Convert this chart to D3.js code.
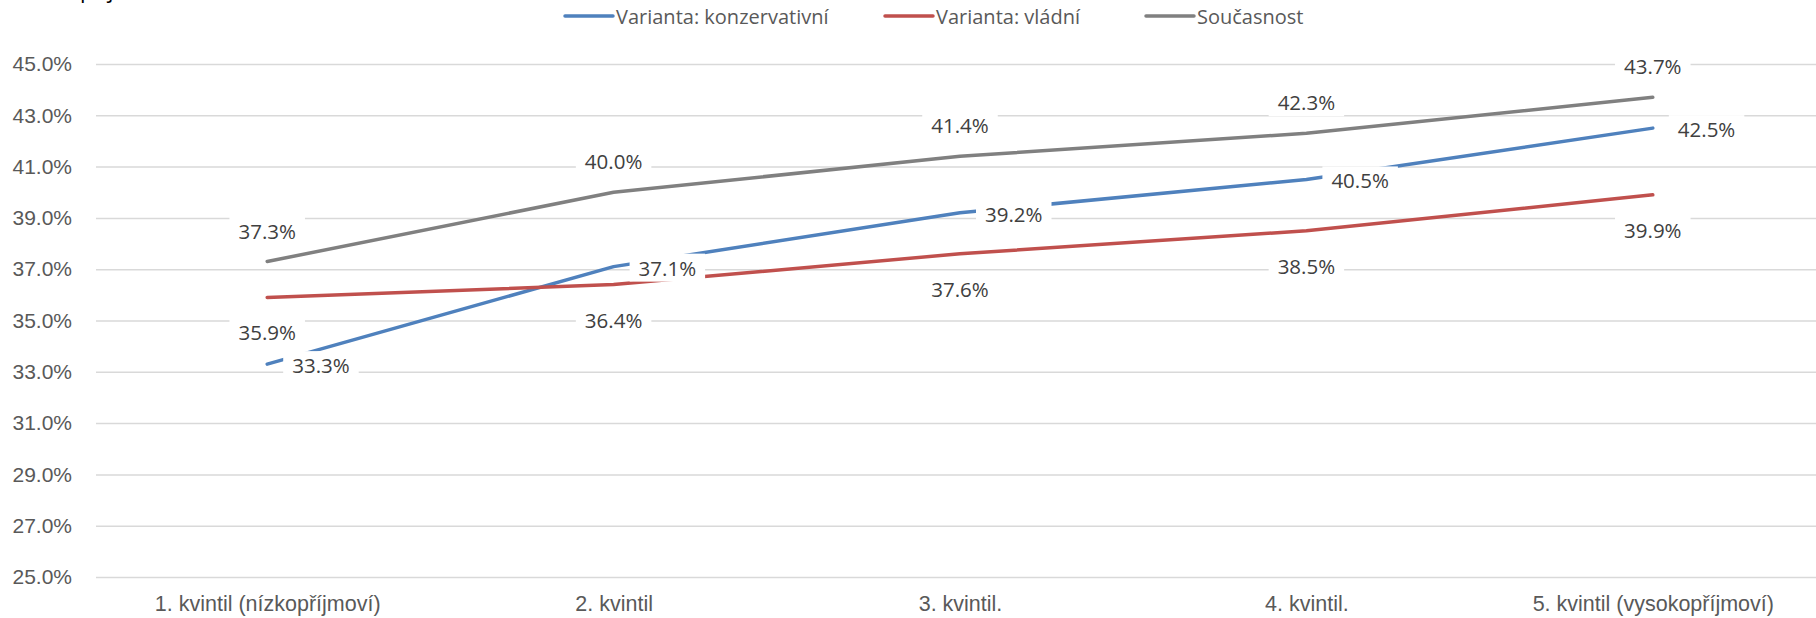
<!DOCTYPE html>
<html>
<head>
<meta charset="utf-8">
<script src="https://cdn.jsdelivr.net/npm/d3@7"></script>
<style>
  body { margin: 0; background: #fff; }
  svg { display: block; font-family: "Open Sans", sans-serif; }
</style>
</head>
<body>
<script>

// Categories on the x axis
const categories = [
    "1. kvintil (nízkopříjmoví)",
    "2. kvintil",
    "3. kvintil.",
    "4. kvintil.",
    "5. kvintil (vysokopříjmoví)"
];

// Series values, in percent
const konzervativni = [33.3, 37.1, 39.2, 40.5, 42.5];
const vladni = [35.9, 36.4, 37.6, 38.5, 39.9];
const soucasnost = [37.3, 40.0, 41.4, 42.3, 43.7];

const seriesNames = ["Varianta: konzervativní", "Varianta: vládní", "Současnost"];

// Y tick values, in percent
const yTicks = [25, 27, 29, 31, 33, 35, 37, 39, 41, 43, 45];

const width = 1816;
const height = 618;

// chart area (the right side runs past the picture edge)
const plotLeft = 94, plotRight = 1826, plotTop = 64, plotBottom = 577;

const series = [
    { name: seriesNames[0], values: konzervativni, color: "#4F81BD", label: "right" },
    { name: seriesNames[1], values: vladni, color: "#C0504D", label: "below" },
    { name: seriesNames[2], values: soucasnost, color: "#808080", label: "above" }
];

const svg = d3.select("body").append("svg")
    .attr("width", width)
    .attr("height", height);

const x = d3.scalePoint()
    .domain(categories)
    .range([plotLeft, plotRight])
    .padding(0.5);

const y = d3.scaleLinear()
    .domain([25, 45])
    .range([plotBottom, plotTop]);

// title, cut off by the top edge in the source picture
svg.append("text")
    .attr("x", 80)
    .attr("y", -2)
    .attr("font-size", 22)
    .attr("fill", "#000")
    .text("příjmů");

// Y axis with gridlines
const yAxis = svg.append("g")
    .attr("transform", "translate(" + plotLeft + ",0)")
    .call(d3.axisLeft(y)
        .tickValues(yTicks)
        .tickSize(-(plotRight - plotLeft))
        .tickPadding(22)
        .tickFormat(d => d.toFixed(1) + "%"));

yAxis.select(".domain").remove();
yAxis.selectAll(".tick line")
    .attr("stroke", "#D9D9D9")
    .attr("stroke-width", 1.5)
    .attr("x1", 2);
yAxis.selectAll(".tick text")
    .attr("fill", "#595959")
    .attr("font-size", 21);

// X axis labels
const xAxis = svg.append("g")
    .attr("transform", "translate(0," + plotBottom + ")")
    .call(d3.axisBottom(x).tickSize(0).tickPadding(19));

xAxis.select(".domain").remove();
xAxis.selectAll(".tick text")
    .attr("fill", "#595959")
    .attr("font-size", 21.5);

// Lines
const line = d3.line()
    .x((d, i) => x(categories[i]))
    .y(d => y(d));

svg.append("g").selectAll("path")
    .data(series).enter()
    .append("path")
    .attr("d", d => line(d.values))
    .attr("fill", "none")
    .attr("stroke", d => d.color)
    .attr("stroke-width", 3.5)
    .attr("stroke-linecap", "round")
    .attr("stroke-linejoin", "round");

// Data labels with white boxes
const labelLayer = svg.append("g");

series.forEach(function(s) {
    s.values.forEach(function(v, i) {
        let px = x(categories[i]);
        let py = y(v);
        let g = labelLayer.append("g");
        let t = g.append("text")
            .attr("font-size", 20.5)
            .attr("fill", "#404040")
            .attr("dominant-baseline", "central")
            .text(v.toFixed(1) + "%");

        let w = t.node().getComputedTextLength();
        let tx, ty;
        if (s.label === "above") {
            tx = px - w / 2; ty = py - 31;
        } else if (s.label === "below") {
            tx = px - w / 2; ty = py + 35;
        } else {
            tx = px + 25; ty = py + 1;
        }
        t.attr("x", tx).attr("y", ty);

        g.insert("rect", "text")
            .attr("x", tx - 9)
            .attr("y", ty - 14)
            .attr("width", w + 18)
            .attr("height", 28)
            .attr("fill", "#fff");
    });
});

// Legend
const legendX = [565, 885, 1146];
const legend = svg.append("g");

series.forEach(function(s, i) {
    let g = legend.append("g")
        .attr("transform", "translate(" + legendX[i] + ",16)");
    g.append("line")
        .attr("x1", 0).attr("x2", 48)
        .attr("stroke", s.color)
        .attr("stroke-width", 3.5)
        .attr("stroke-linecap", "round");
    g.append("text")
        .attr("x", 51)
        .attr("dominant-baseline", "central")
        .attr("font-size", 20)
        .attr("fill", "#595959")
        .text(s.name);
});

</script>
</body>
</html>
